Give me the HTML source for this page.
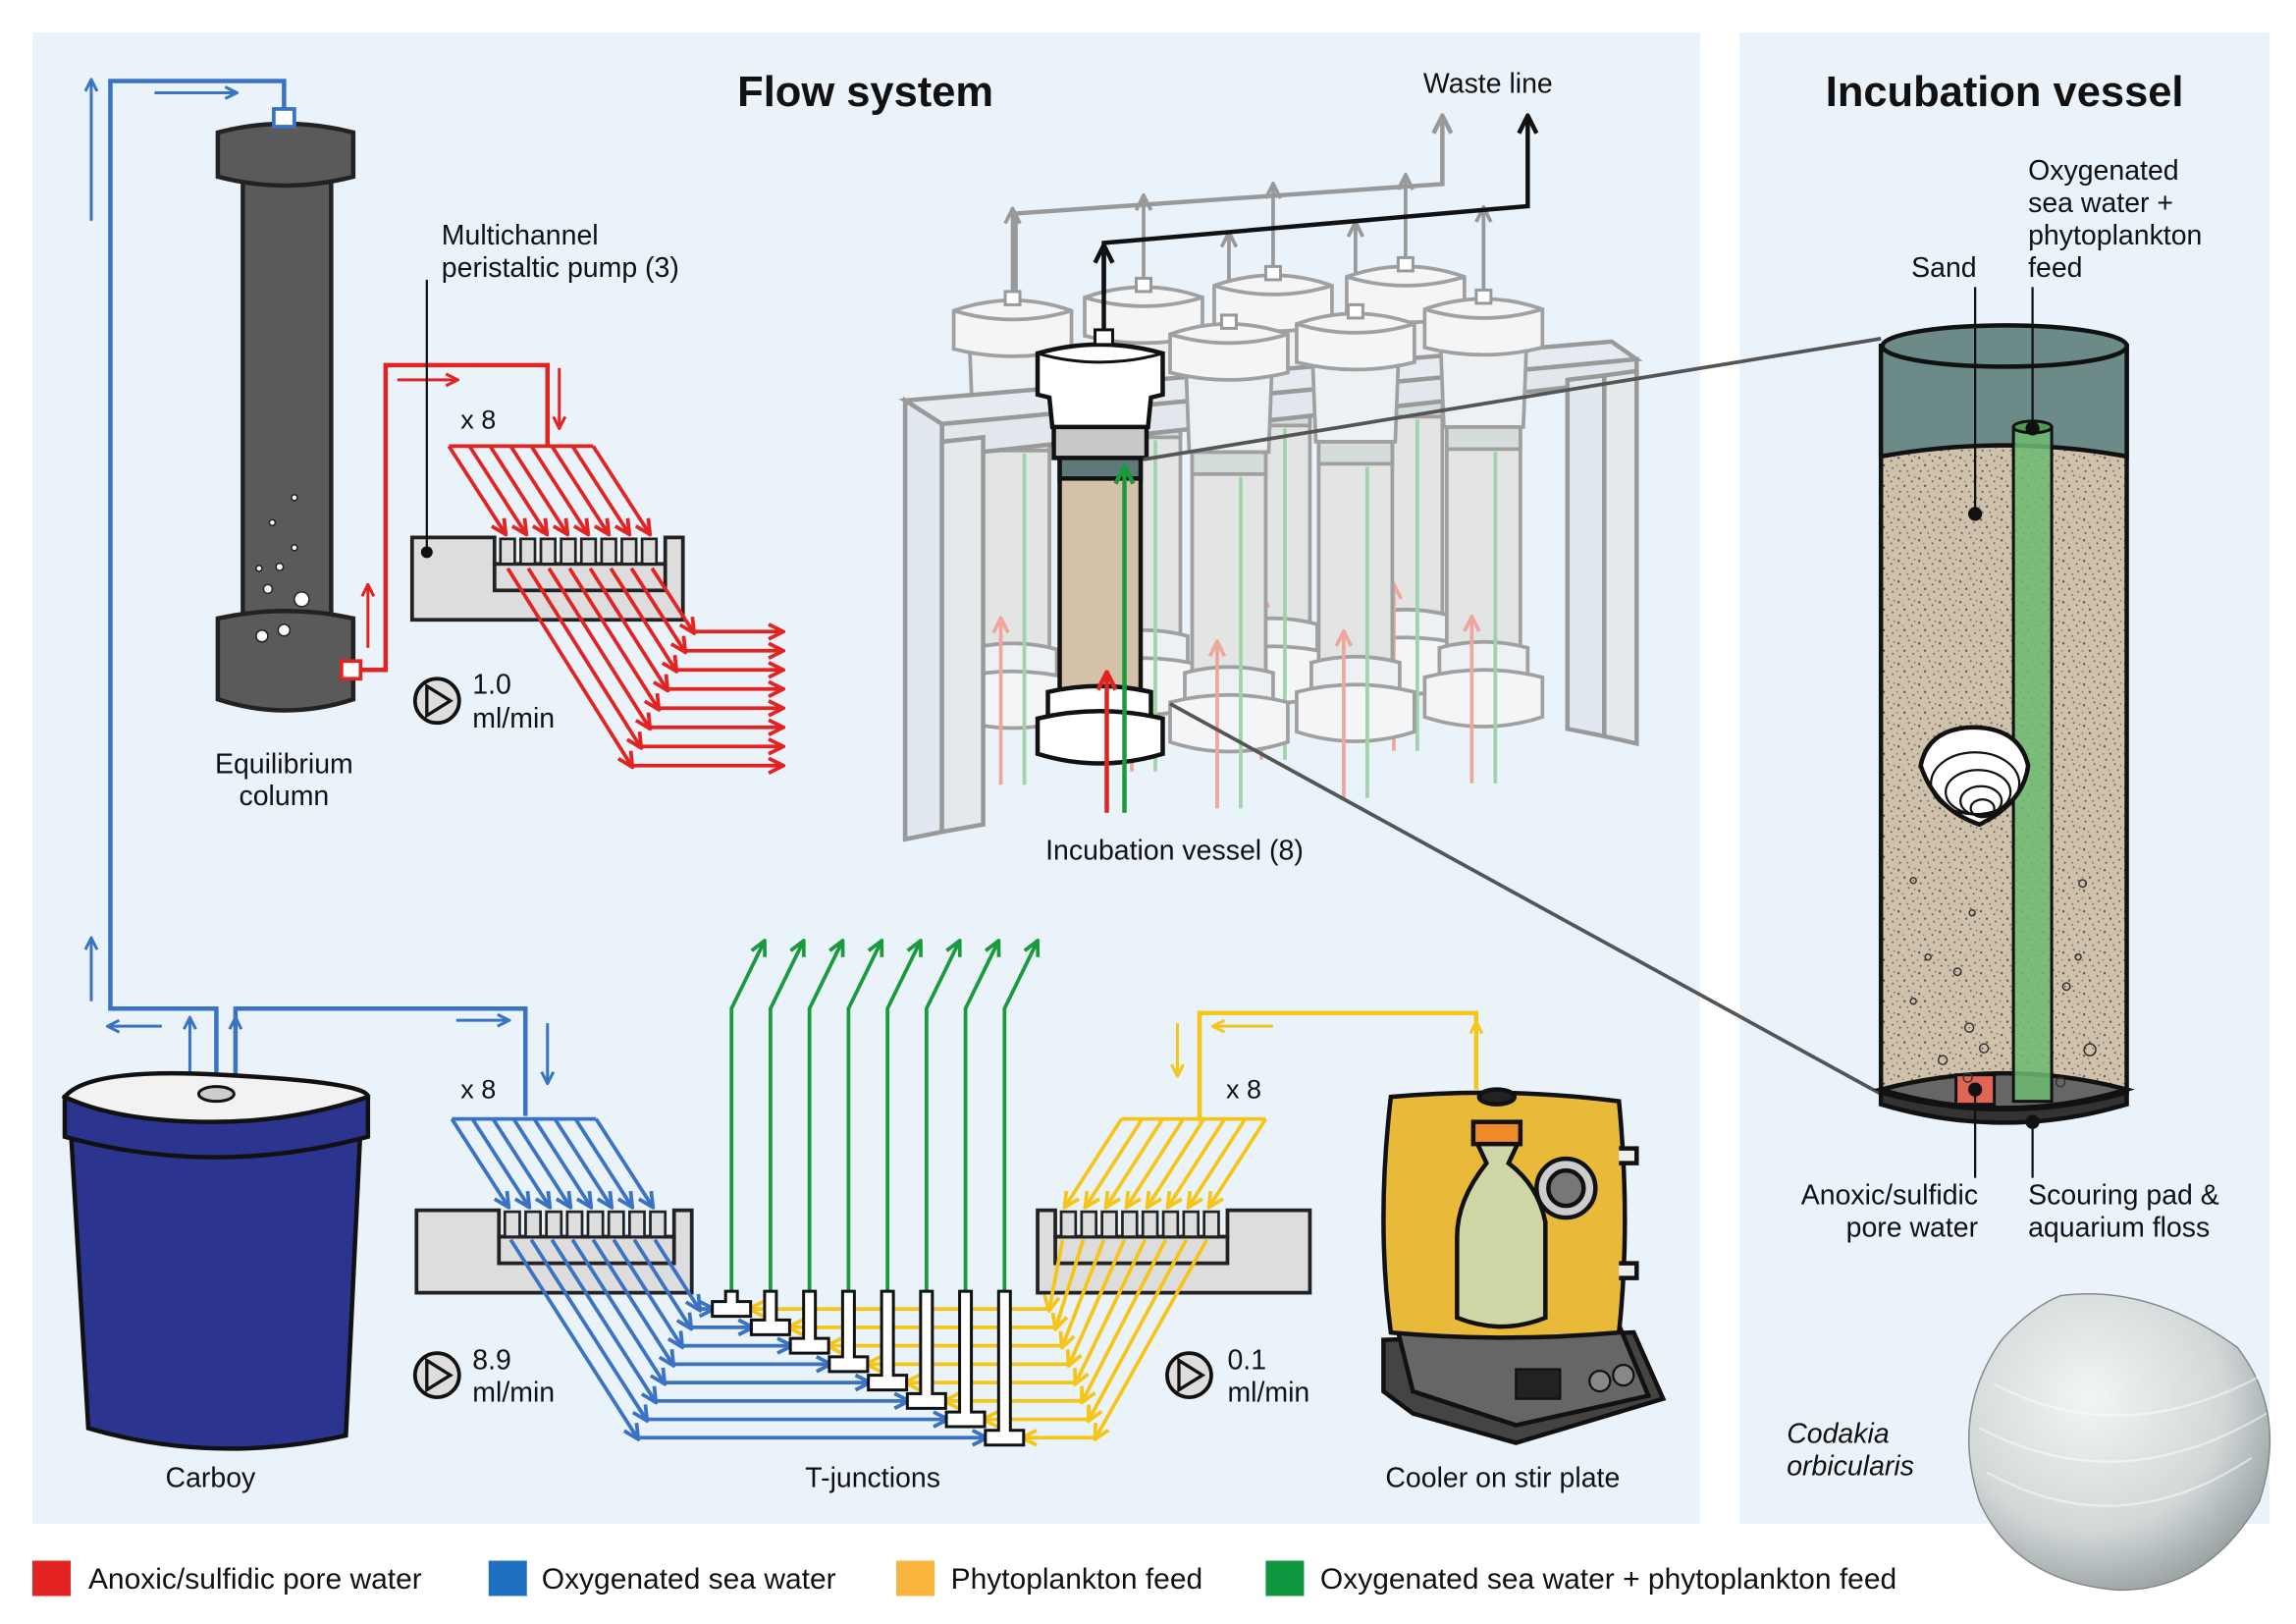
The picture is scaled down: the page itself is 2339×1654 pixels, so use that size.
<!DOCTYPE html>
<html><head><meta charset="utf-8">
<style>
html,body{margin:0;padding:0;background:#fff}
svg{display:block}
text{font-family:"Liberation Sans",sans-serif;fill:#111}
</style></head><body>
<svg id="s" width="2339" height="1654" viewBox="0 0 1560 1103" preserveAspectRatio="none" xmlns="http://www.w3.org/2000/svg">
<defs>
<marker id="ar" viewBox="0 0 10 10" refX="8" refY="5" markerWidth="5" markerHeight="5" orient="auto"><path d="M1,1 L9,5 L1,9" fill="none" stroke="#e32222" stroke-width="2"/></marker>
<marker id="ab" viewBox="0 0 10 10" refX="8" refY="5" markerWidth="5" markerHeight="5" orient="auto"><path d="M1,1 L9,5 L1,9" fill="none" stroke="#3a72c4" stroke-width="2"/></marker>
<marker id="ay" viewBox="0 0 10 10" refX="8" refY="5" markerWidth="5" markerHeight="5" orient="auto"><path d="M1,1 L9,5 L1,9" fill="none" stroke="#f5c518" stroke-width="2"/></marker>
<marker id="ag" viewBox="0 0 10 10" refX="8" refY="5" markerWidth="5" markerHeight="5" orient="auto"><path d="M1,1 L9,5 L1,9" fill="none" stroke="#1a9a3c" stroke-width="2"/></marker>
<marker id="ak" viewBox="0 0 10 10" refX="8" refY="5" markerWidth="5" markerHeight="5" orient="auto"><path d="M1,1 L9,5 L1,9" fill="none" stroke="#111" stroke-width="2"/></marker>
<marker id="aa" viewBox="0 0 10 10" refX="8" refY="5" markerWidth="5" markerHeight="5" orient="auto"><path d="M1,1 L9,5 L1,9" fill="none" stroke="#999" stroke-width="2"/></marker>
<marker id="ap" viewBox="0 0 10 10" refX="8" refY="5" markerWidth="5" markerHeight="5" orient="auto"><path d="M1,1 L9,5 L1,9" fill="none" stroke="#eea79c" stroke-width="2"/></marker>
<radialGradient id="shell" cx="0.4" cy="0.35" r="0.75"><stop offset="0" stop-color="#f2f5f4"/><stop offset="0.6" stop-color="#d2d8d8"/><stop offset="1" stop-color="#8a9294"/></radialGradient>
<pattern id="sand" width="14" height="14" patternUnits="userSpaceOnUse">
<rect width="14" height="14" fill="#cfc1aa"/>
<circle cx="2" cy="3" r="0.8" fill="#555"/><circle cx="9" cy="1" r="0.7" fill="#666"/><circle cx="6" cy="8" r="0.8" fill="#555"/><circle cx="12" cy="10" r="0.7" fill="#666"/><circle cx="3" cy="12" r="0.7" fill="#555"/><circle cx="11" cy="5" r="0.6" fill="#444"/><circle cx="5" cy="5" r="0.5" fill="#777"/><circle cx="8" cy="12" r="0.6" fill="#666"/><circle cx="13" cy="2" r="0.5" fill="#555"/><circle cx="1" cy="8" r="0.5" fill="#666"/>
</pattern>
</defs>
<rect x="22" y="22" width="1133" height="1013" fill="#eaf2fa"/>
<rect x="1182" y="22" width="360" height="1013" fill="#eaf2fa"/>
<text x="588" y="72" font-size="29" font-weight="bold" text-anchor="middle">Flow system</text>
<text x="1362" y="72" font-size="29" font-weight="bold" text-anchor="middle">Incubation vessel</text>

<!-- waste -->
<g id="wg"></g>
<polyline points="690,230 690,145 980,125 980,80" fill="none" stroke="#999" stroke-width="3" marker-end="url(#aa)"/>
<g id="backv"></g>
<g id="rack" stroke="#999" stroke-width="3" fill="#e2e8ef">
<path d="M615,272 L1095,232 L1112,244 L640,288 Z" fill="#e6ebf1"/>
<path d="M640,288 L1112,244 L1112,258 L640,310 Z" fill="#e2e7ee"/>
<path d="M615,272 L640,288 L640,565 L615,570 Z"/>
<path d="M640,300 L668,297 L668,560 L640,565 Z" fill="#e6e9ec"/>
<path d="M1065,258 L1090,255 L1090,500 L1065,495 Z"/>
<path d="M1090,255 L1112,252 L1112,505 L1090,500 Z" fill="#e6e9ec"/>
</g>
<g id="frontv"></g>
<!-- front vessel -->
<g stroke="#111" stroke-width="3">
<rect x="720" y="310" width="55" height="160" fill="#d3c2a7"/>
<rect x="720" y="310" width="55" height="15" fill="#5d7a79"/>
<rect x="716" y="287" width="63" height="24" fill="#c8c8c8"/>
<path d="M705,240 Q747,228 790,240 L790,268 L782,270 L780,290 L715,290 L713,270 L705,268 Z" fill="#fff"/>
<path d="M705,240 Q747,252 790,240" fill="none" stroke-width="2"/>
<path d="M712,470 Q747,462 782,470 L782,488 L712,488 Z" fill="#fff"/>
<path d="M705,488 Q747,478 790,488 L790,512 Q747,525 705,512 Z" fill="#fff"/>
</g>
<line x1="752" y1="552" x2="752" y2="458" stroke="#e32222" stroke-width="3" marker-end="url(#ar)"/>
<line x1="764" y1="552" x2="764" y2="318" stroke="#1a9a3c" stroke-width="3" marker-end="url(#ag)"/>
<polyline points="750,228 750,165 1038,140 1038,80" fill="none" stroke="#111" stroke-width="3" marker-end="url(#ak)"/>
<line x1="750" y1="200" x2="750" y2="168" stroke="#111" stroke-width="3" marker-end="url(#ak)"/>
<rect x="744" y="224" width="12" height="10" fill="#fff" stroke="#111" stroke-width="2"/>
<text x="1011" y="63" font-size="19" text-anchor="middle">Waste line</text>
<text x="798" y="584" font-size="19" text-anchor="middle">Incubation vessel (8)</text>

<!-- connector lines to detail -->
<line x1="777" y1="312" x2="1278" y2="230" stroke="#555" stroke-width="2.5"/>
<line x1="795" y1="478" x2="1278" y2="743" stroke="#555" stroke-width="2.5"/>

<!-- equilibrium column -->
<g stroke="#222" stroke-width="3" fill="#5a5a5a">
<rect x="165" y="120" width="60" height="310"/>
<path d="M148,420 Q194,410 240,420 L240,475 Q194,490 148,475 Z"/>
<path d="M148,90 Q194,78 240,90 L240,120 Q194,132 148,120 Z"/>
</g>
<g fill="#fff" stroke="#222" stroke-width="1">
<circle cx="205" cy="407" r="5"/><circle cx="193" cy="428" r="4"/><circle cx="178" cy="432" r="4"/><circle cx="182" cy="400" r="3"/><circle cx="190" cy="385" r="2.5"/><circle cx="200" cy="372" r="2"/><circle cx="185" cy="355" r="2"/><circle cx="200" cy="338" r="2"/><circle cx="176" cy="386" r="2"/>
</g>
<text x="193" y="525" font-size="19" text-anchor="middle">Equilibrium</text>
<text x="193" y="547" font-size="19" text-anchor="middle">column</text>

<!-- blue main lines -->
<polyline points="147,742 147,685 75,685 75,55 193,55 193,80" fill="none" stroke="#3a72c4" stroke-width="3"/>
<rect x="186" y="74" width="14" height="12" fill="#fff" stroke="#3a72c4" stroke-width="2.5"/>
<line x1="62" y1="150" x2="62" y2="55" stroke="#3a72c4" stroke-width="2" marker-end="url(#ab)"/>
<line x1="105" y1="63" x2="160" y2="63" stroke="#3a72c4" stroke-width="2" marker-end="url(#ab)"/>
<line x1="62" y1="680" x2="62" y2="638" stroke="#3a72c4" stroke-width="2" marker-end="url(#ab)"/>
<line x1="110" y1="697" x2="74" y2="697" stroke="#3a72c4" stroke-width="2" marker-end="url(#ab)"/>
<line x1="129" y1="728" x2="129" y2="692" stroke="#3a72c4" stroke-width="2" marker-end="url(#ab)"/>
<line x1="160" y1="728" x2="160" y2="692" stroke="#3a72c4" stroke-width="2" marker-end="url(#ab)"/>
<polyline points="160,742 160,685 357,685 357,758" fill="none" stroke="#3a72c4" stroke-width="3"/>
<line x1="310" y1="693" x2="345" y2="693" stroke="#3a72c4" stroke-width="2" marker-end="url(#ab)"/>
<line x1="372" y1="695" x2="372" y2="735" stroke="#3a72c4" stroke-width="2" marker-end="url(#ab)"/>

<!-- red main -->
<polyline points="238,455 262,455 262,248 372,248 372,303" fill="none" stroke="#e32222" stroke-width="3"/>
<line x1="250" y1="440" x2="250" y2="398" stroke="#e32222" stroke-width="2" marker-end="url(#ar)"/>
<line x1="270" y1="258" x2="310" y2="258" stroke="#e32222" stroke-width="2" marker-end="url(#ar)"/>
<line x1="380" y1="250" x2="380" y2="290" stroke="#e32222" stroke-width="2" marker-end="url(#ar)"/>
<rect x="232" y="449" width="13" height="12" fill="#fff" stroke="#e32222" stroke-width="2.5"/>

<!-- yellow main -->
<polyline points="1003,740 1003,688 815,688 815,760" fill="none" stroke="#f5c518" stroke-width="3"/>
<line x1="1003" y1="730" x2="1003" y2="695" stroke="#f5c518" stroke-width="2" marker-end="url(#ay)"/>
<line x1="865" y1="697" x2="825" y2="697" stroke="#f5c518" stroke-width="2" marker-end="url(#ay)"/>
<line x1="800" y1="695" x2="800" y2="730" stroke="#f5c518" stroke-width="2" marker-end="url(#ay)"/>

<g id="pumps"></g>
<g id="fans"></g>

<line x1="290" y1="375" x2="290" y2="190" stroke="#111" stroke-width="1.5"/>
<circle cx="290" cy="375" r="4" fill="#111"/>
<text x="300" y="166" font-size="19">Multichannel</text>
<text x="300" y="188" font-size="19">peristaltic pump (3)</text>
<text x="313" y="291" font-size="18">x 8</text>
<text x="313" y="746" font-size="18">x 8</text>
<text x="833" y="746" font-size="18">x 8</text>
<g fill="#ddd" stroke="#111" stroke-width="2.5">
<circle cx="297" cy="476" r="15"/><circle cx="297" cy="934" r="15"/><circle cx="808" cy="934" r="15"/>
</g>
<g fill="none" stroke="#111" stroke-width="2.2">
<path d="M290,466 L306,476 L290,486 Z"/><path d="M290,924 L306,934 L290,944 Z"/><path d="M801,924 L817,934 L801,944 Z"/>
</g>
<text x="321" y="471" font-size="19">1.0</text><text x="321" y="494" font-size="19">ml/min</text>
<text x="321" y="930" font-size="19">8.9</text><text x="321" y="952" font-size="19">ml/min</text>
<text x="834" y="930" font-size="19">0.1</text><text x="834" y="952" font-size="19">ml/min</text>

<!-- carboy -->
<g stroke="#111" stroke-width="3">
<path d="M48,765 L60,970 Q145,995 235,975 L245,765 Z" fill="#2b3590"/>
<path d="M44,745 L44,772 Q145,800 250,772 L250,745 Z" fill="#2b3590"/>
<path d="M44,745 Q60,725 150,730 Q250,735 250,745 Q200,762 145,762 Q80,762 44,745 Z" fill="#f2f2f2"/>
</g>
<ellipse cx="147" cy="743" rx="12" ry="5" fill="#ccc" stroke="#111" stroke-width="2"/>
<text x="143" y="1010" font-size="19" text-anchor="middle">Carboy</text>
<text x="593" y="1010" font-size="19" text-anchor="middle">T-junctions</text>

<!-- cooler -->
<g stroke="#111" stroke-width="3">
<path d="M940,910 L1110,905 L1130,950 L1030,980 L960,960 L940,945 Z" fill="#444"/>
<path d="M950,905 L1100,900 L1120,948 L1030,968 L960,945 Z" fill="#666"/>
<path d="M945,745 Q1020,738 1100,748 Q1108,830 1100,905 Q1020,912 945,905 Q935,830 945,745 Z" fill="#e9b93a"/>
<path d="M1100,780 L1112,780 L1112,790 L1100,790 M1100,858 L1112,858 L1112,868 L1100,868" fill="#eee"/>
<circle cx="1064" cy="807" r="20" fill="#ccc"/><circle cx="1064" cy="807" r="12" fill="#777"/>
<path d="M1003,775 L1010,790 Q990,815 990,840 L990,895 Q1020,907 1050,895 L1050,830 Q1045,805 1025,790 L1032,775 Z" fill="#c9dcc0" fill-opacity="0.8"/>
<rect x="1001" y="762" width="32" height="15" fill="#ee8a2a"/>
<rect x="1030" y="930" width="30" height="20" fill="#222" stroke-width="1.5"/>
<circle cx="1087" cy="938" r="7" fill="#888" stroke-width="1.5"/><circle cx="1103" cy="934" r="7" fill="#888" stroke-width="1.5"/>
<ellipse cx="1017" cy="745" rx="12" ry="5" fill="#222"/>
</g>
<text x="1021" y="1010" font-size="19" text-anchor="middle">Cooler on stir plate</text>

<!-- incubation vessel detail -->
<g stroke="#111" stroke-width="3">
<path d="M1278,235 L1278,742 Q1362,765 1445,742 L1445,235 Z" fill="url(#sand)"/>
<path d="M1278,235 L1278,310 Q1362,295 1445,310 L1445,235 Z" fill="#6b8a88"/>
<ellipse cx="1362" cy="235" rx="83" ry="14" fill="#6b8a88"/>
<path d="M1278,740 Q1362,718 1445,740 Q1362,765 1278,740 Z" fill="#666"/>
<path d="M1278,742 L1278,750 Q1362,775 1445,750 L1445,742 Q1362,765 1278,742 Z" fill="#333"/>
<rect x="1368" y="290" width="26" height="458" fill="#6dbb72" fill-opacity="0.85" stroke-width="2"/>
<ellipse cx="1381" cy="290" rx="13" ry="4" fill="#4e9a56" stroke-width="2"/>
<rect x="1329" y="730" width="26" height="20" fill="#e06555" stroke-width="2"/>
</g>
<g fill="none" stroke="#333" stroke-width="1">
<circle cx="1300" cy="598" r="2"/><circle cx="1310" cy="650" r="2"/><circle cx="1330" cy="660" r="2.5"/><circle cx="1338" cy="698" r="3"/><circle cx="1348" cy="712" r="3"/><circle cx="1320" cy="720" r="3"/><circle cx="1337" cy="732" r="3"/><circle cx="1415" cy="600" r="2.5"/><circle cx="1412" cy="650" r="2"/><circle cx="1404" cy="670" r="2.5"/><circle cx="1420" cy="713" r="4"/><circle cx="1400" cy="735" r="3"/><circle cx="1300" cy="680" r="2"/><circle cx="1340" cy="620" r="2"/>
</g>
<path d="M1305,520 Q1310,495 1340,494 Q1372,494 1378,520 Q1375,545 1345,560 Q1315,550 1305,520 Z" fill="#fff" stroke="#111" stroke-width="3"/>
<g fill="none" stroke="#111" stroke-width="1.5"><ellipse cx="1342" cy="532" rx="30" ry="21"/><ellipse cx="1344" cy="538" rx="22" ry="15"/><ellipse cx="1346" cy="544" rx="14" ry="10"/><ellipse cx="1347" cy="549" rx="8" ry="6"/></g>
<g stroke="#111" stroke-width="1.5">
<line x1="1342" y1="195" x2="1342" y2="349"/><circle cx="1342" cy="349" r="4" fill="#111"/>
<line x1="1381" y1="195" x2="1381" y2="291"/><circle cx="1381" cy="291" r="4" fill="#111"/>
<line x1="1342" y1="740" x2="1342" y2="800"/><circle cx="1342" cy="740" r="4" fill="#111"/>
<line x1="1381" y1="762" x2="1381" y2="800"/><circle cx="1381" cy="762" r="4" fill="#111"/>
</g>
<text x="1343" y="188" font-size="19" text-anchor="end">Sand</text>
<text x="1378" y="122" font-size="19">Oxygenated</text>
<text x="1378" y="144" font-size="19">sea water +</text>
<text x="1378" y="166" font-size="19">phytoplankton</text>
<text x="1378" y="188" font-size="19">feed</text>
<text x="1344" y="818" font-size="19" text-anchor="end">Anoxic/sulfidic</text>
<text x="1344" y="840" font-size="19" text-anchor="end">pore water</text>
<text x="1378" y="818" font-size="19">Scouring pad &amp;</text>
<text x="1378" y="840" font-size="19">aquarium floss</text>
<text x="1214" y="980" font-size="19" font-style="italic">Codakia</text>
<text x="1214" y="1002" font-size="19" font-style="italic">orbicularis</text>
<path d="M1400,880 Q1460,872 1520,915 Q1555,960 1535,1020 Q1500,1080 1440,1080 Q1370,1075 1345,1020 Q1325,960 1360,910 Q1380,888 1400,880 Z" fill="url(#shell)" stroke="#888" stroke-width="1"/>
<g fill="none" stroke="#fff" stroke-opacity="0.5" stroke-width="1.5">
<path d="M1350,1000 Q1440,1050 1530,990"/><path d="M1345,970 Q1440,1020 1540,960"/><path d="M1355,940 Q1440,985 1535,935"/>
</g>

<!-- legend -->
<rect x="22" y="1060" width="26" height="24" fill="#e32222"/>
<text x="60" y="1079" font-size="20">Anoxic/sulfidic pore water</text>
<rect x="332" y="1060" width="26" height="24" fill="#1f6fc0"/>
<text x="368" y="1079" font-size="20">Oxygenated sea water</text>
<rect x="609" y="1060" width="26" height="24" fill="#f8b43c"/>
<text x="646" y="1079" font-size="20">Phytoplankton feed</text>
<rect x="860" y="1060" width="26" height="24" fill="#11973f"/>
<text x="897" y="1079" font-size="20">Oxygenated sea water + phytoplankton feed</text>
</svg>
<script>
(function(){
var NS="http://www.w3.org/2000/svg";
function el(p,t,a){var e=document.createElementNS(NS,t);for(var k in a)e.setAttribute(k,a[k]);p.appendChild(e);return e;}
var f=document.getElementById('fans'),pm=document.getElementById('pumps'),bv=document.getElementById('backv'),fv=document.getElementById('frontv'),wg=document.getElementById('wg');
function vessel(g,x,y){
 var S={stroke:'#a0a0a0','stroke-width':2.5};
 function P(d,fill){var a={d:d,fill:fill};for(var k in S)a[k]=S[k];el(g,'path',a);}
 P('M'+(x-25)+','+(y+88)+' L'+(x+25)+','+(y+88)+' L'+(x+25)+','+(y+240)+' L'+(x-25)+','+(y+240)+' Z','#e3e4e4');
 P('M'+(x-25)+','+(y+88)+' L'+(x+25)+','+(y+88)+' L'+(x+25)+','+(y+103)+' L'+(x-25)+','+(y+103)+' Z','#d5dcdc');
 P('M'+(x-29)+','+(y+36)+' L'+(x+29)+','+(y+36)+' L'+(x+27)+','+(y+88)+' L'+(x-27)+','+(y+88)+' Z','#eef1f4');
 P('M'+(x-40)+','+(y+8)+' Q'+x+','+(y-6)+' '+(x+40)+','+(y+8)+' L'+(x+40)+','+(y+34)+' Q'+x+','+(y+44)+' '+(x-40)+','+(y+34)+' Z','#f3f5f7');
 P('M'+(x-40)+','+(y+8)+' Q'+x+','+(y+20)+' '+(x+40)+','+(y+8),'none');
 P('M'+(x-30)+','+(y+238)+' Q'+x+','+(y+230)+' '+(x+30)+','+(y+238)+' L'+(x+30)+','+(y+258)+' L'+(x-30)+','+(y+258)+' Z','#eef1f4');
 P('M'+(x-40)+','+(y+258)+' Q'+x+','+(y+248)+' '+(x+40)+','+(y+258)+' L'+(x+40)+','+(y+285)+' Q'+x+','+(y+298)+' '+(x-40)+','+(y+285)+' Z','#f3f5f7');
 el(g,'line',{x1:x-8,y1:y+330,x2:x-8,y2:y+218,stroke:'#eea79c','stroke-width':2.5,'marker-end':'url(#ap)'});
 el(g,'line',{x1:x+8,y1:y+330,x2:x+8,y2:y+105,stroke:'#9fd3a8','stroke-width':2.5});
 el(wg,'line',{x1:x,y1:y,x2:x,y2:y-60,stroke:'#999','stroke-width':2.5,'marker-end':'url(#aa)'});
 el(g,'rect',{x:x-5,y:y-5,width:10,height:9,fill:'#fff',stroke:'#999','stroke-width':2});
}
[[688,203],[777,194],[865,186],[955,180]].forEach(function(v){vessel(bv,v[0],v[1]);});
[[835,219],[921,212],[1008,202]].forEach(function(v){vessel(fv,v[0],v[1]);});
function pump(x,y,w,mir){
 var a,b; if(!mir){a=x+56;b=x+w-12;}else{a=x+12;b=x+w-56;}
 el(pm,'path',{d:'M'+x+','+y+' H'+a+' V'+(y+18)+' H'+b+' V'+y+' H'+(x+w)+' V'+(y+56)+' H'+x+' Z',fill:'#ddd',stroke:'#222','stroke-width':2.5});
 el(pm,'rect',{x:a,y:y+18,width:b-a,height:18,fill:'#ddd',stroke:'#222','stroke-width':2.5});
 var n=8,sp=(b-a-6)/n;
 for(var i=0;i<n;i++){el(pm,'rect',{x:a+4+i*sp,y:y+1,width:sp-4,height:17,fill:'#ddd',stroke:'#222','stroke-width':1.8});}
}
pump(280,365,184,false);pump(283,822,187,false);pump(705,822,185,true);
var i;
el(f,'line',{x1:305,y1:303,x2:403,y2:303,stroke:'#e32222','stroke-width':2.5});
for(i=0;i<8;i++){
 el(f,'line',{x1:305+i*14,y1:303,x2:343+i*14,y2:362,stroke:'#e32222','stroke-width':2.5,'marker-end':'url(#ar)'});
 var bx=429+6*i, by=520-13*i;
 el(f,'line',{x1:345+i*14,y1:386,x2:bx,y2:by,stroke:'#e32222','stroke-width':2.5,'marker-end':'url(#ar)'});
 el(f,'line',{x1:bx,y1:by,x2:531,y2:by,stroke:'#e32222','stroke-width':2.5,'marker-end':'url(#ar)'});
}
el(f,'line',{x1:307,y1:760,x2:405,y2:760,stroke:'#3a72c4','stroke-width':2.5});
el(f,'line',{x1:762,y1:760,x2:860,y2:760,stroke:'#f5c518','stroke-width':2.5});
var T=[];
for(var k=0;k<8;k++){
 var yk=884+12.5*k, ry=yk+5, tx=497+26.5*k;
 el(f,'line',{x1:307+k*14,y1:760,x2:345+k*14,y2:819,stroke:'#3a72c4','stroke-width':2.5,'marker-end':'url(#ab)'});
 el(f,'line',{x1:762+k*14,y1:760,x2:724+k*14,y2:819,stroke:'#f5c518','stroke-width':2.5,'marker-end':'url(#ay)'});
 var bi=7-k, bbx=475-6*k;
 el(f,'line',{x1:347+bi*14,y1:842,x2:bbx,y2:ry,stroke:'#3a72c4','stroke-width':2.5,'marker-end':'url(#ab)'});
 el(f,'line',{x1:bbx,y1:ry,x2:tx-13,y2:ry,stroke:'#3a72c4','stroke-width':2.5,'marker-end':'url(#ab)'});
 var ybx=713+4.5*k;
 el(f,'line',{x1:722+k*14,y1:842,x2:ybx,y2:ry,stroke:'#f5c518','stroke-width':2.5,'marker-end':'url(#ay)'});
 el(f,'line',{x1:ybx,y1:ry,x2:tx+13,y2:ry,stroke:'#f5c518','stroke-width':2.5,'marker-end':'url(#ay)'});
 el(f,'polyline',{points:tx+',878 '+tx+',685 '+(tx+22)+',640',fill:'none',stroke:'#1a9a3c','stroke-width':2.5,'marker-end':'url(#ag)'});
 T.push([tx,yk]);
}
T.forEach(function(t){var tx=t[0],yk=t[1];
 el(f,'path',{d:'M'+(tx-4)+',877 L'+(tx+4)+',877 L'+(tx+4)+','+yk+' L'+(tx+13)+','+yk+' L'+(tx+13)+','+(yk+10)+' L'+(tx-13)+','+(yk+10)+' L'+(tx-13)+','+yk+' L'+(tx-4)+','+yk+' Z',fill:'#fff',stroke:'#111','stroke-width':2});
});
})();
</script>
</body></html>
